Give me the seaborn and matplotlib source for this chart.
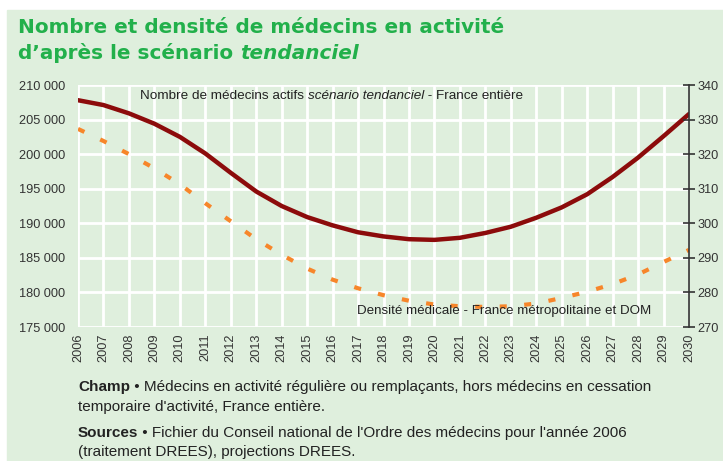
import matplotlib
matplotlib.use("Agg")
import pandas as pd
import matplotlib.pyplot as plt
import seaborn as sns
from matplotlib.patches import Rectangle

# données
annees = list(range(2006, 2031))
nb_medecins = [207800, 207100, 205900, 204400, 202500, 200100, 197300, 194600, 192500, 190900,
               189700, 188700, 188100, 187700, 187600, 187900, 188600, 189500, 190800, 192300,
               194200, 196700, 199500, 202600, 205800]
densite = [327.3, 323.8, 320.0, 315.9, 311.3, 305.8, 300.6, 295.4, 290.9, 286.9,
           283.7, 281.2, 279.2, 277.6, 276.5, 276.0, 275.8, 276.0, 276.8, 278.4,
           280.2, 282.4, 285.2, 288.8, 292.3]
ticks_gauche = [175000, 180000, 185000, 190000, 195000, 200000, 205000, 210000]
labels_gauche = ["175 000", "180 000", "185 000", "190 000", "195 000", "200 000", "205 000", "210 000"]
ticks_droite = [270, 280, 290, 300, 310, 320, 330, 340]

df = pd.DataFrame({"annee": annees, "nombre": nb_medecins, "densite": densite})

sns.set_style("white")
plt.rcParams['font.family'] = ['Liberation Sans', 'DejaVu Sans']

BG = "#dfefdd"
VERT = "#22b04b"
GRIS = "#333333"
W, H = 723, 461

fig = plt.figure(figsize=(W / 100, H / 100), dpi=100)
fig.patches.append(Rectangle((7 / W, 0), 1, 1 - 10 / H, transform=fig.transFigure,
                             color=BG, zorder=-10))

ax = fig.add_axes([78 / W, 1 - 327 / H, 611 / W, 242 / H])
ax.set_facecolor(BG)
sns.lineplot(data=df, x="annee", y="nombre", ax=ax, color="#8c0b0b", lw=3.2)
ax2 = ax.twinx()
sns.lineplot(data=df, x="annee", y="densite", ax=ax2, color="#f7862a", lw=3,
             linestyle=(0, (1.7, 4.2)))

ax.set_xlim(2006, 2030)
ax.set_ylim(175000, 210000)
ax2.set_ylim(270, 340)
ax.set_xticks(annees)
ax.set_xticklabels([str(a) for a in annees], rotation=90)
ax.set_yticks(ticks_gauche)
ax.set_yticklabels(labels_gauche)
ax2.set_yticks(ticks_droite)
ax.grid(True, color="white", lw=2)
ax.set_axisbelow(True)
ax.set_xlabel("")
ax.set_ylabel("")
ax2.set_ylabel("")
for s in ax.spines.values():
    s.set_visible(False)
for k, s in ax2.spines.items():
    s.set_visible(k == "right")
ax2.spines["right"].set_color(GRIS)
ax2.spines["right"].set_linewidth(1.2)
ax.tick_params(axis="both", length=0, labelsize=9.2, colors=GRIS)
ax.tick_params(axis="y", pad=9)
ax.tick_params(axis="x", pad=5)
ax2.tick_params(axis="y", direction="inout", length=8, width=1.2, colors=GRIS,
                labelsize=9.2, pad=2)


def texte_mixte(x, y, morceaux, **kw):
    # enchaîne des morceaux de texte de styles différents sur une même ligne
    style, txt = morceaux[0]
    prec = fig.text(x / W, 1 - y / H, txt, va="baseline", ha="left", **style, **kw)
    for style, txt in morceaux[1:]:
        prec = plt.annotate(txt, xy=(1, 0), xycoords=prec, va="bottom", ha="left",
                            **style, **kw)
    return prec


# titre
texte_mixte(18, 33, [({}, "Nombre et densité de médecins en activité")],
            color=VERT, fontsize=14.4, fontweight="bold", family="DejaVu Sans")
texte_mixte(18, 59, [({}, "d’après le scénario "), ({"fontstyle": "italic"}, "tendanciel")],
            color=VERT, fontsize=14.4, fontweight="bold", family="DejaVu Sans")

# annotations des courbes
texte_mixte(140, 99, [({}, "Nombre de médecins actifs "),
                      ({"fontstyle": "italic"}, "scénario tendanciel"),
                      ({}, " - France entière")], color="#222222", fontsize=9.7)
texte_mixte(357, 314, [({}, "Densité médicale - France métropolitaine et DOM")],
            color="#222222", fontsize=9.6)

# notes
texte_mixte(78, 391, [({"fontweight": "bold"}, "Champ"),
                      ({}, " • Médecins en activité régulière ou remplaçants, hors médecins en cessation")],
            color="#222222", fontsize=10.95)
texte_mixte(78, 411, [({}, "temporaire d'activité, France entière.")], color="#222222", fontsize=10.95)
texte_mixte(78, 437, [({"fontweight": "bold"}, "Sources"),
                      ({}, " • Fichier du Conseil national de l'Ordre des médecins pour l'année 2006")],
            color="#222222", fontsize=10.95)
texte_mixte(78, 456, [({}, "(traitement DREES), projections DREES.")], color="#222222", fontsize=10.95)

fig.savefig("out.png", dpi=100, facecolor="white")
